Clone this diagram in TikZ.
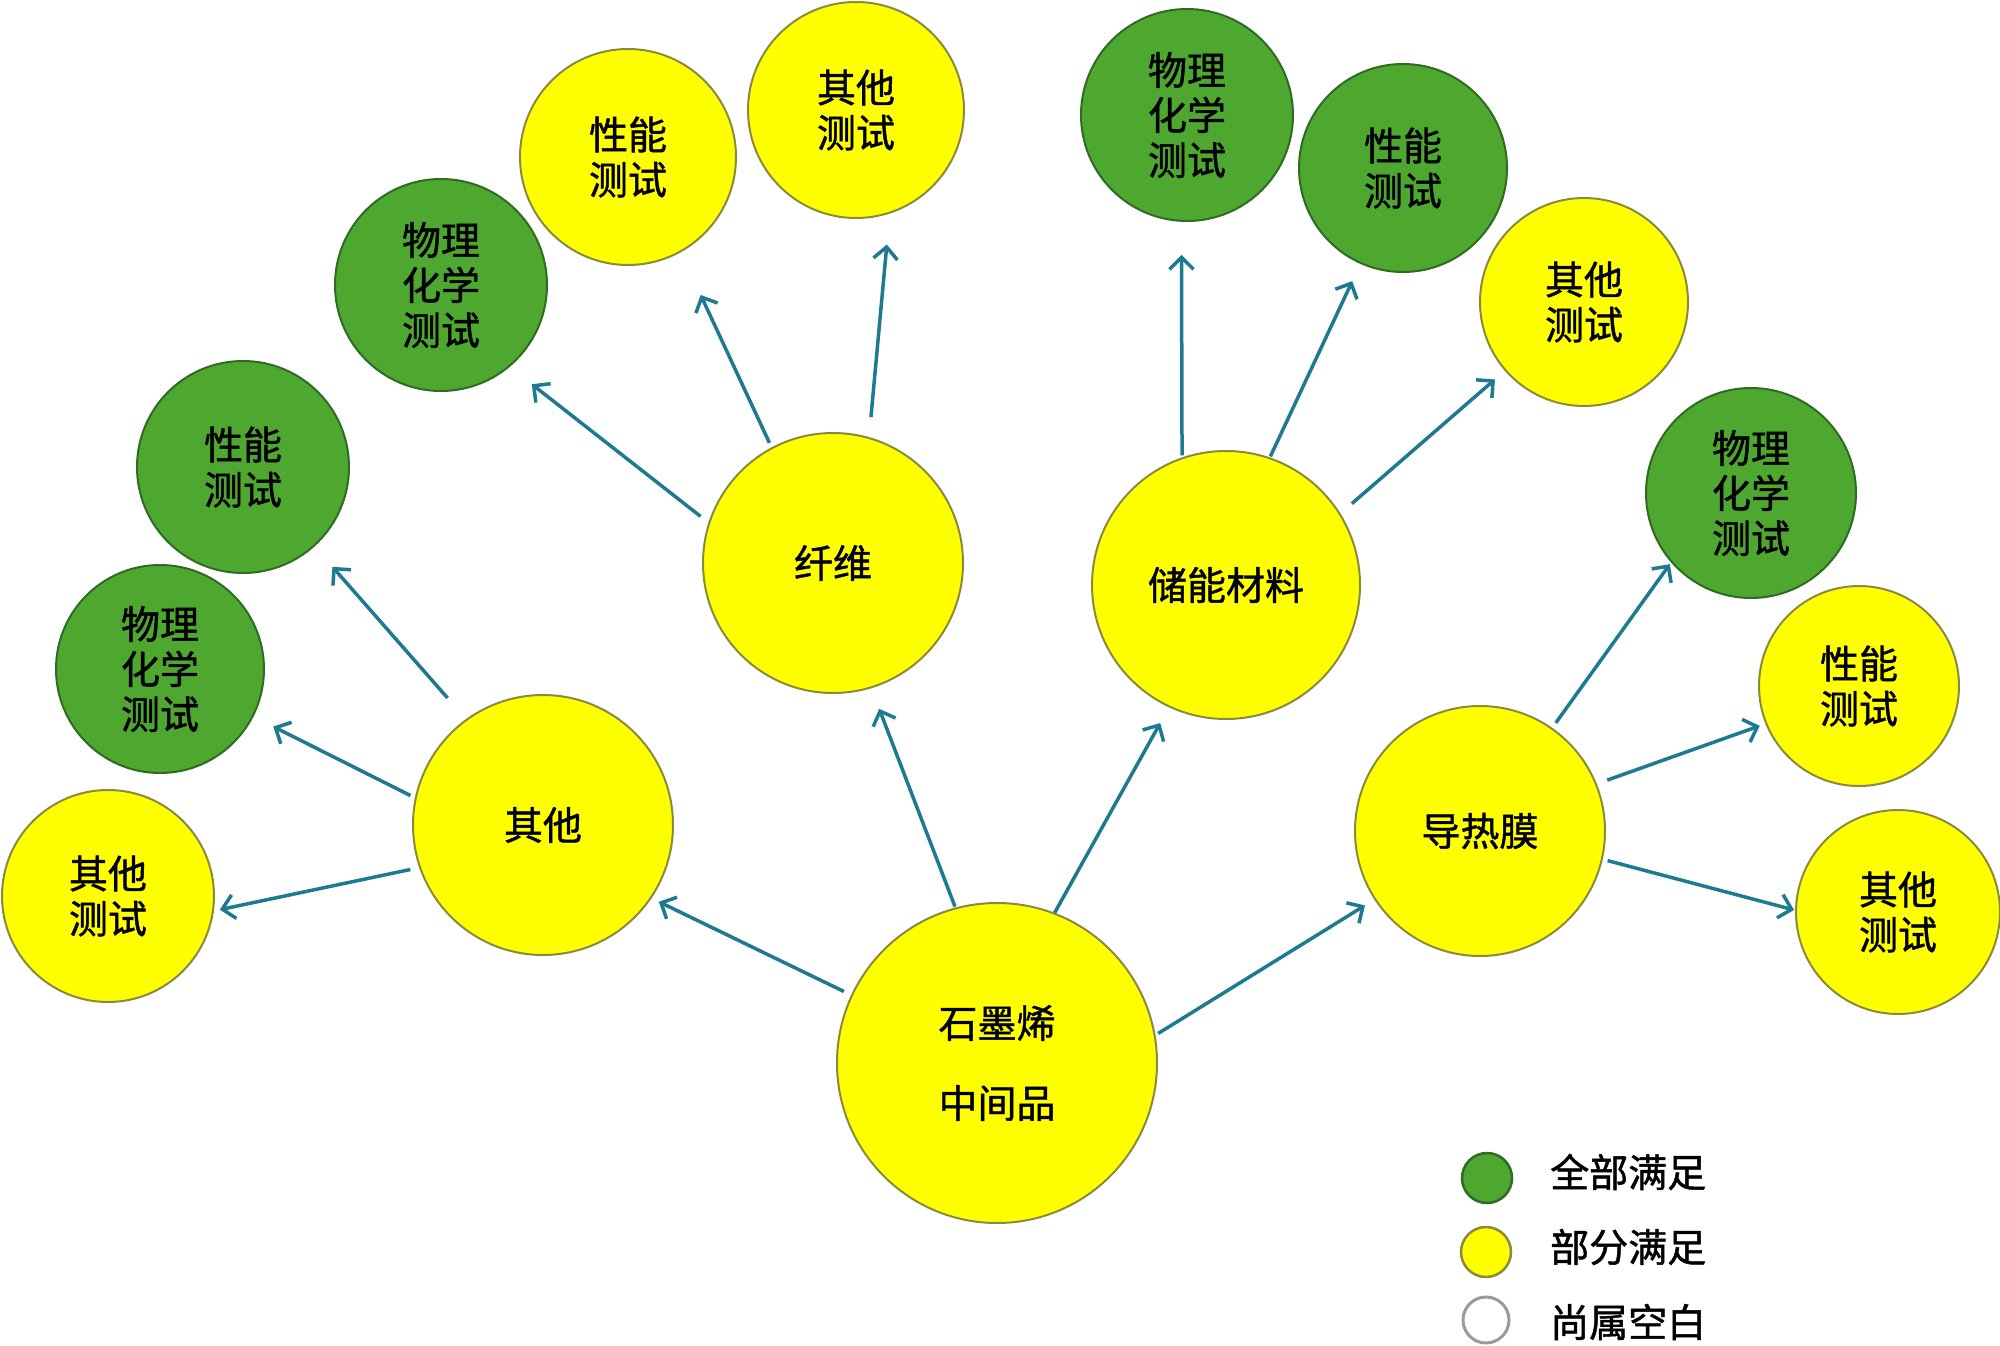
\documentclass[tikz,border=0pt]{standalone}
\usepackage{fontspec}
\setmainfont{Noto Sans CJK SC}[FakeBold=1.2]
\usetikzlibrary{arrows.meta}
\definecolor{gfill}{HTML}{4EA72E}
\definecolor{gline}{HTML}{2F6B22}
\definecolor{yfill}{HTML}{FFFF00}
\definecolor{yline}{HTML}{8A8A3C}
\definecolor{arrc}{HTML}{1E7A90}
\definecolor{wline}{HTML}{9A9A9A}
\tikzset{
  base/.style={circle, inner sep=0pt, line width=2pt, align=center, font=\fontsize{39}{45}\selectfont},
  full/.style={base, fill=gfill, draw=gline},
  part/.style={base, fill=yfill, draw=yline},
  arr/.style={draw=arrc, line width=3.5pt, -{Straight Barb[length=12pt,width=24pt]}},
  legtext/.style={anchor=west, inner sep=0pt, font=\fontsize{39}{45}\selectfont},
}
\begin{document}
\begin{tikzpicture}[x=1pt,y=-1pt]
\useasboundingbox (0,0) rectangle (2000,1346);
% main nodes
\node[part, minimum size=320pt] (c) at (997,1063) {石墨烯\\[35pt]中间品};
\node[part, minimum size=260pt] (oth) at (543,825) {其他};
\node[part, minimum size=260pt] (fib) at (833,563) {纤维};
\node[part, minimum size=268pt] (sto) at (1226,585) {储能材料};
\node[part, minimum size=250pt] (the) at (1480,831) {导热膜};
% leaves of 其他
\node[part, minimum size=212pt] (o1) at (108,896) {其他\\测试};
\node[full, minimum size=208pt] (o2) at (160,669) {物理\\化学\\测试};
\node[full, minimum size=212pt] (o3) at (243,467) {性能\\测试};
% leaves of 纤维
\node[full, minimum size=212pt] (f1) at (441,285) {物理\\化学\\测试};
\node[part, minimum size=216pt] (f2) at (628,157) {性能\\测试};
\node[part, minimum size=216pt] (f3) at (856,110) {其他\\测试};
% leaves of 储能材料
\node[full, minimum size=212pt] (s1) at (1187,115) {物理\\化学\\测试};
\node[full, minimum size=208pt] (s2) at (1403,168) {性能\\测试};
\node[part, minimum size=208pt] (s3) at (1584,302) {其他\\测试};
% leaves of 导热膜
\node[full, minimum size=210pt] (t1) at (1751,493) {物理\\化学\\测试};
\node[part, minimum size=200pt] (t2) at (1859,686) {性能\\测试};
\node[part, minimum size=204pt] (t3) at (1898,912) {其他\\测试};
% arrows
\draw[arr, shorten <=8pt, shorten >=8pt] (c.155) -- (oth.-34);
\draw[arr, shorten <=1pt, shorten >=22pt] (c.105.5) -- (fib.-73.2);
\draw[arr, shorten <=0pt, shorten >=18pt] (c.69.1) -- (sto.-115.7);
\draw[arr, shorten <=3pt, shorten >=11pt] (c.10.6) -- (the.-147.6);
\draw[arr, shorten <=9pt, shorten >=6pt] (oth.-161.2) -- (o1.-8.8);
\draw[arr, shorten <=5pt, shorten >=22pt] (oth.168) -- (o2.-27.8);
\draw[arr, shorten <=28pt, shorten >=27pt] (oth.126.8) -- (o3.-48);
\draw[arr, shorten <=10pt, shorten >=28pt] (fib.162.2) -- (f1.-50.5);
\draw[arr, shorten <=5pt, shorten >=47pt] (fib.118.6) -- (f2.-61.1);
\draw[arr, shorten <=20pt, shorten >=31pt] (fib.74.2) -- (f3.-72.9);
\draw[arr, shorten <=2pt, shorten >=33pt] (sto.109.4) -- (s1.-93.7);
\draw[arr, shorten <=1pt, shorten >=19pt] (sto.71.4) -- (s2.-114.5);
\draw[arr, shorten <=15pt, shorten >=13pt] (sto.32.1) -- (s3.-139.5);
\draw[arr, shorten <=6pt, shorten >=2pt] (the.55.6) -- (t1.-139.2);
\draw[arr, shorten <=11pt, shorten >=6pt] (the.22.4) -- (t2.-158.5);
\draw[arr, shorten <=5pt, shorten >=1pt] (the.-13.8) -- (t3.179.4);
% legend
\node[circle, inner sep=0pt, minimum size=50pt, fill=gfill, draw=gline, line width=2.5pt] (lg1) at (1487,1178) {};
\node[circle, inner sep=0pt, minimum size=50pt, fill=yfill, draw=yline, line width=2.5pt] (lg2) at (1486,1252) {};
\node[circle, inner sep=0pt, minimum size=46pt, fill=white, draw=wline, line width=3pt] (lg3) at (1486,1320) {};
\node[legtext] (lt1) at (1550,1172) {全部满足};
\node[legtext] (lt2) at (1550,1247) {部分满足};
\node[legtext] (lt3) at (1550,1322) {尚属空白};
\end{tikzpicture}
\end{document}
